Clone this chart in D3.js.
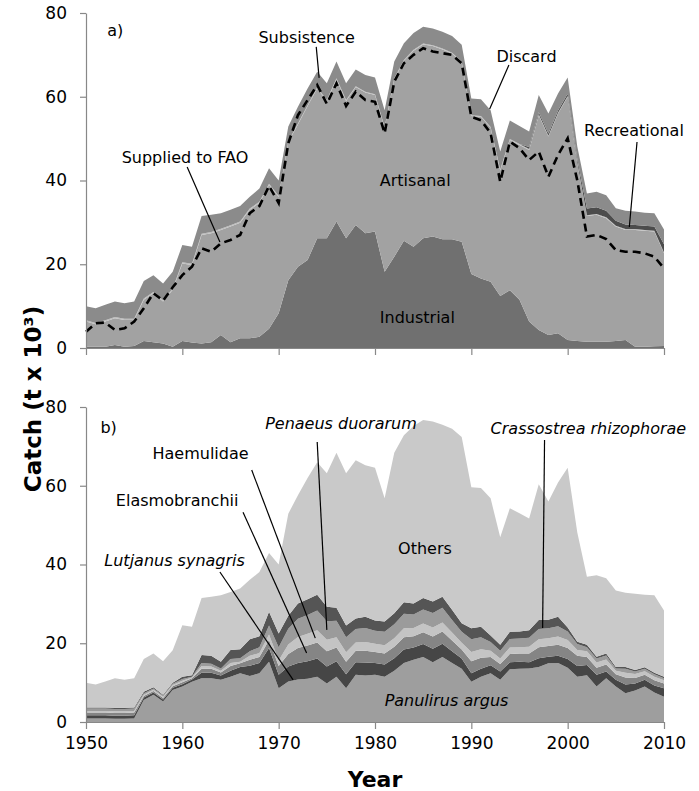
<!DOCTYPE html>
<html><head><meta charset="utf-8">
<script src="https://cdn.jsdelivr.net/npm/d3@7"></script>
<style>
body{margin:0;background:#fff}
svg{display:block}
text{font-family:"DejaVu Sans",Verdana,sans-serif;fill:#000}
</style>
</head><body>
<svg id="c" width="699" height="791"></svg>
<script>
// ---------- DATA ----------
const years = d3.range(1950, 2011);
const xTicks = [1950, 1960, 1970, 1980, 1990, 2000, 2010];
const yTicks = [0, 20, 40, 60, 80];

// Panel a) by sector (t x 10^3)
const industrial = [0.3,0.3,0.3,0.7,0.3,0.5,1.7,1.4,1.1,0.3, 1.7,1.3,1.1,1.4,3.1,1.4,2.3,2.3,2.7,4.6,
  8.3,16.2,19.4,21.0,26.2,26.2,30.2,26.2,29.4,27.4, 27.8,18.2,21.8,25.6,24.2,26.2,26.6,26.0,26.0,25.4,
  17.7,16.6,15.8,12.4,13.8,11.5,6.3,4.3,3.1,3.5, 1.9,1.7,1.5,1.5,1.5,1.7,1.9,0.3,0.3,0.4, 0.5];
const artisanal = [6.0,5.4,6.0,6.4,6.4,6.2,9.8,11.7,10.0,13.6, 18.5,18.5,25.9,26.0,25.1,27.6,27.6,30.7,31.9,34.3,
  27.8,33.0,34.0,36.8,35.8,32.8,34.0,32.8,32.9,33.6, 32.6,34.4,42.4,43.0,46.8,46.3,45.5,45.3,44.3,42.8,
  37.7,38.6,36.8,30.0,35.9,37.0,41.0,51.3,47.4,52.5, 58.1,42.4,30.0,30.3,29.5,27.3,26.3,27.9,27.7,27.4, 22.1];
const subsistence = [0.3,0.3,0.3,0.3,0.3,0.3,0.3,0.3,0.3,0.3, 0.3,0.3,0.3,0.3,0.3,0.3,0.3,0.3,0.3,0.3,
  0.2,0.2,0.2,0.2,0.2,0.2,0.2,0.2,0.2,0.2, 0.2,0.2,0.2,0.2,0.2,0.2,0.2,0.2,0.2,0.2,
  0.2,0.2,0.2,0.2,0.2,0.2,0.2,0.2,0.2,0.2, 0.2,0.2,0.2,0.2,0.2,0.2,0.2,0.2,0.2,0.2, 0.2];
const recreational = [0,0,0,0,0,0,0,0,0,0, 0,0,0,0,0,0,0,0,0,0,
  0,0,0,0,0,0,0,0,0,0, 0,0,0,0,0,0,0,0,0,0,
  0,0,0,0,0,0,0.5,0.5,0.5,0.5, 0.5,0.8,1.6,1.6,1.6,1.2,1.1,1.0,1.0,1.0, 2.0];
const discard = [3.4,3.5,3.7,3.7,3.7,4.1,4.2,4.0,4.0,4.0, 4.1,4.1,4.2,4.1,3.7,3.7,3.7,2.8,3.2,3.7,
  3.7,3.5,4.0,4.0,3.8,4.0,4.0,4.0,4.0,4.0, 4.0,4.0,4.0,4.0,4.0,4.0,4.0,4.0,4.0,4.0,
  4.0,4.0,4.0,4.3,4.4,4.3,3.7,4.1,4.8,4.1, 3.9,3.0,3.6,3.7,3.7,3.0,3.3,3.2,3.1,3.2, 3.5];
const suppliedFAO = [3.9,5.9,6.1,4.3,4.7,6.3,9.5,13.1,11.3,14.5, 17.4,19.4,23.8,23.0,25.0,25.8,27.0,32.2,33.9,38.7,
  34.6,48.9,55.6,59.2,62.8,58.3,63.2,57.8,61.2,59.2, 58.8,51.3,63.6,68.0,70.0,71.6,70.8,70.4,70.0,68.0,
  55.2,54.4,51.3,39.7,49.3,47.7,44.9,46.9,40.9,46.1, 50.1,40.0,26.6,27.0,26.0,23.4,23.0,23.0,22.6,21.8, 19.0];

// Panel b) by taxon (t x 10^3)
const panulirus = [0.9,0.9,0.9,0.8,0.8,0.9,5.6,6.9,5.2,8.1, 9.0,10.2,11.1,11.1,10.7,11.5,12.4,11.7,12.4,15.3,
  8.6,10.3,10.8,11.0,11.5,9.8,11.5,8.6,12.0,11.8, 12.0,11.5,13.0,15.0,15.8,16.5,15.2,16.5,15.0,13.5,
  10.2,11.5,12.4,10.7,13.4,13.5,13.6,14.0,14.9,15.0, 13.8,11.5,11.9,9.0,11.1,9.0,7.3,8.0,9.0,7.5, 6.4];
const lutjanus = [0.8,0.8,0.8,0.8,0.8,0.8,0.6,0.6,0.5,0.6, 0.6,0.6,1.4,1.4,1.1,1.5,1.6,2.6,2.6,3.5,
  3.4,3.8,4.2,4.4,4.6,4.3,3.9,3.5,3.2,3.3, 3.0,3.1,3.2,3.4,3.1,3.3,3.4,3.4,3.0,2.6,
  2.2,2.0,2.0,2.1,1.8,1.8,1.6,2.2,1.7,1.8, 2.2,2.7,2.6,3.0,1.7,1.7,2.2,1.8,1.7,1.8, 2.2];
const elasmo = [0.7,0.7,0.7,0.7,0.7,0.7,0.4,0.4,0.4,0.4, 0.5,0.3,1.0,1.0,0.8,1.2,0.9,1.5,1.5,2.0,
  2.2,3.2,3.8,4.0,4.1,3.9,3.5,3.2,2.9,3.0, 2.8,2.8,2.9,3.1,2.9,3.0,3.1,3.1,2.7,2.3,
  3.0,2.8,2.1,1.9,2.1,2.1,2.2,2.8,2.7,2.8, 2.8,2.6,2.0,1.8,1.8,1.4,1.8,1.4,1.3,1.3, 1.2];
const haemulidae = [0.4,0.4,0.4,0.4,0.4,0.4,0.3,0.3,0.3,0.3, 0.4,0.2,0.7,0.6,0.4,0.8,0.4,1.0,1.0,1.4,
  1.4,2.4,2.8,3.0,3.1,2.9,2.6,2.4,2.1,2.2, 2.1,2.1,2.2,2.3,2.1,2.2,2.3,2.3,2.0,1.7,
  2.4,2.2,1.6,1.4,1.6,1.6,1.7,2.0,2.0,2.1, 2.0,1.5,1.5,1.3,1.3,0.9,1.2,1.0,0.9,0.9, 0.8];
const penaeus = [0.6,0.6,0.6,0.6,0.6,0.6,0.4,0.3,0.3,0.3, 0.4,0.2,0.8,0.7,0.6,1.0,0.9,1.2,1.5,2.3,
  3.4,4.0,4.6,4.8,5.0,4.7,4.2,3.8,3.4,3.6, 3.3,3.4,3.5,3.7,3.4,3.6,3.7,3.7,3.2,2.8,
  3.2,3.0,2.2,2.0,2.2,2.2,2.3,2.6,2.5,2.6, 2.2,1.5,1.0,1.0,1.0,0.6,1.0,0.6,0.6,0.6, 0.5];
const crassostrea = [0.3,0.3,0.3,0.3,0.3,0.3,0.4,0.3,0.2,0.3, 0.6,0.4,2.0,2.0,1.7,2.3,2.3,3.0,2.8,3.5,
  3.5,3.3,3.9,4.0,4.0,3.7,3.3,3.0,2.7,2.8, 2.6,2.6,2.8,2.9,2.8,2.9,2.9,2.8,2.6,2.2,
  2.8,2.7,1.7,1.5,1.8,1.8,1.9,2.3,2.2,2.4, 1.0,0.6,0.6,0.5,0.5,0.4,0.5,0.4,0.4,0.4, 0.4];
const others = [6.3,5.8,6.6,7.5,7.1,7.4,8.3,8.6,8.5,8.2, 13.1,12.3,14.5,15.0,16.9,14.7,15.4,15.1,16.3,14.9,
  17.5,25.9,27.5,30.8,33.7,33.9,39.4,38.7,40.2,38.5, 38.8,31.3,40.8,42.4,45.1,45.2,45.7,43.7,46.0,47.3,
  35.8,35.2,34.8,27.3,31.4,30.0,28.4,34.5,30.0,34.1, 40.6,27.7,17.3,20.7,19.1,19.4,18.8,19.4,18.4,19.7, 16.8];

// ---------- CHART ----------
const svg = d3.select("#c");
const x = d3.scaleLinear().domain([1950, 2010]).range([86, 664]);
const yA = d3.scaleLinear().domain([0, 80]).range([348, 13]);
const yB = d3.scaleLinear().domain([0, 80]).range([722, 407]);

function rows(series) {
  return years.map((yr, i) => {
    const r = {year: yr};
    for (const k in series) r[k] = series[k][i];
    return r;
  });
}

function drawStack(seriesObj, keys, colors, y) {
  const data = rows(seriesObj);
  const stacked = d3.stack().keys(keys)(data);
  const area = d3.area()
    .x(d => x(d.data.year))
    .y0(d => y(d[0]))
    .y1(d => y(d[1]));
  svg.append("g").selectAll("path").data(stacked).join("path")
    .attr("d", area)
    .attr("fill", (d, i) => colors[i])
    .attr("stroke", "none");
}

// Panel a
drawStack({industrial, artisanal, subsistence, recreational, discard},
  ["industrial","artisanal","subsistence","recreational","discard"],
  ["#707070","#a2a2a2","#bdbdbd","#4c4c4c","#8b8b8b"], yA);

const faoLine = d3.line().x((d, i) => x(years[i])).y(d => yA(d));
svg.append("path").datum(suppliedFAO)
  .attr("d", faoLine).attr("fill", "none")
  .attr("stroke", "#000").attr("stroke-width", 2.6)
  .attr("stroke-dasharray", "8,5");

// Panel b
drawStack({panulirus, lutjanus, elasmo, haemulidae, penaeus, crassostrea, others},
  ["panulirus","lutjanus","elasmo","haemulidae","penaeus","crassostrea","others"],
  ["#9e9e9e","#464646","#858585","#c4c4c4","#9b9b9b","#555555","#c9c9c9"], yB);

// Axes
function styleAxis(g) {
  g.selectAll(".domain").attr("stroke", "#888").attr("stroke-width", 1.2);
  g.selectAll(".tick line").attr("stroke", "#888").attr("stroke-width", 1.2);
  g.selectAll(".tick text").attr("font-size", 17).attr("fill", "#000")
    .attr("font-family", '"DejaVu Sans",Verdana,sans-serif');
}
function yAxis(y) {
  svg.append("g").attr("transform", "translate(86,0)")
    .call(d3.axisLeft(y).tickValues(yTicks).tickSize(6).tickPadding(13).tickSizeOuter(0))
    .call(styleAxis);
}
yAxis(yA); yAxis(yB);

svg.append("g").attr("transform", `translate(0,${yA(0)})`)
  .call(d3.axisBottom(x).tickValues(xTicks).tickSize(7).tickSizeOuter(0).tickFormat(""))
  .call(styleAxis);
svg.append("g").attr("transform", `translate(0,${yB(0)})`)
  .call(d3.axisBottom(x).tickValues(xTicks).tickSize(7).tickSizeOuter(0).tickPadding(8).tickFormat(d3.format("d")))
  .call(styleAxis);

// Axis titles
svg.append("text").attr("x", 375).attr("y", 787).attr("text-anchor", "middle")
  .attr("font-size", 22).attr("font-weight", "bold").text("Year");
svg.append("text").attr("transform", "translate(41,399) rotate(-90)").attr("text-anchor", "middle")
  .attr("font-size", 23).attr("font-weight", "bold").text("Catch (t x 10³)");

// Annotations: [label, textYear, textValue, italic, lineFrom, lineTo]
const annotA = [
  ["a)", 1952.2, 74.5, false, null, null],
  ["Subsistence", 1967.9, 72.8, false, [1973.9, 71.9], [1974.2, 64.5]],
  ["Supplied to FAO", 1953.7, 44.2, false, [1960.5, 43.2], [1963.9, 25.3]],
  ["Discard", 1992.6, 68.3, false, [1993.9, 67.6], [1991.9, 57.1]],
  ["Recreational", 2001.7, 50.6, false, [2007.2, 49.2], [2006.4, 28.9]],
  ["Artisanal", 1980.5, 38.7, false, null, null],
  ["Industrial", 1980.5, 6.0, false, null, null]
];
const annotB = [
  ["b)", 1951.5, 73.4, false, null, null],
  ["Penaeus duorarum", 1968.6, 74.4, true, [1974.0, 71.1], [1975.0, 23.4]],
  ["Haemulidae", 1956.9, 66.8, false, [1967.2, 64.0], [1973.8, 21.3]],
  ["Elasmobranchii", 1953.1, 54.9, false, [1966.3, 53.3], [1972.9, 17.5]],
  ["Lutjanus synagris", 1951.9, 39.6, true, [1963.9, 38.1], [1971.5, 10.7]],
  ["Crassostrea rhizophorae", 1992.0, 73.1, true, [1997.6, 71.6], [1997.4, 23.9]],
  ["Others", 1982.4, 42.7, false, null, null],
  ["Panulirus argus", 1981.0, 4.1, true, null, null]
];
function annotate(list, y) {
  const g = svg.append("g");
  list.forEach(([t, tx, ty, it, a, b]) => {
    if (a) g.append("line").attr("x1", x(a[0])).attr("y1", y(a[1]))
      .attr("x2", x(b[0])).attr("y2", y(b[1])).attr("stroke", "#000").attr("stroke-width", 1.2);
    g.append("text").attr("x", x(tx)).attr("y", y(ty)).attr("font-size", 16)
      .attr("font-style", it ? "italic" : "normal").text(t);
  });
}
annotate(annotA, yA);
annotate(annotB, yB);
</script>
</body></html>
